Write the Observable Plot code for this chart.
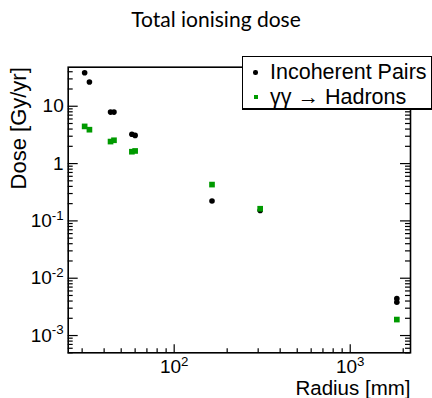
<!DOCTYPE html>
<html>
<head>
<meta charset="utf-8">
<script src="https://cdn.jsdelivr.net/npm/d3@7"></script>
<script src="https://cdn.jsdelivr.net/npm/@observablehq/plot@0.6"></script>
<style>
  html, body { margin: 0; padding: 0; background: #fff; }
  #root { position: relative; width: 432px; height: 398px; overflow: hidden; background: #fff; }
  #title { position: absolute; left: 0; top: 6px; width: 432px; text-align: center; font: 21px Lato, "DejaVu Sans", sans-serif; color: #000; }
  #legend { position: absolute; left: 242px; top: 56px; width: 188px; height: 51px; border: 1px solid #000; border-bottom-width: 2px; background: #fff; font-family: "Liberation Sans", "DejaVu Sans", sans-serif; font-size: 21.5px; color: #000; }
  .row { position: absolute; left: 0; height: 24px; line-height: 24px; white-space: nowrap; }
  .row .lbl { position: absolute; left: 27px; top: 0; }
  .mk { position: absolute; }
</style>
</head>
<body>
<div id="root">
  <div id="chart"></div>
  <div id="title">Total ionising dose</div>
  <div id="legend"></div>
</div>
<script>
// ---- data ----
const pairsRadius  = [31, 33, 43.5, 45.5, 57.5, 60, 164, 308, 1840, 1840];
const pairsDose    = [38.5, 26.5, 7.9, 7.9, 3.25, 3.1, 0.222, 0.152, 0.0044, 0.0038];
const hadronRadius = [31, 33, 43.5, 45.5, 57.5, 60, 164, 308, 1840];
const hadronDose   = [4.45, 3.9, 2.42, 2.55, 1.61, 1.66, 0.43, 0.163, 0.0019];
const seriesNames  = ["Incoherent Pairs", "\u03b3\u03b3 \u2192 Hadrons"];
const seriesColors = ["#000000", "#009a00"];
const xTickValues  = [100, 1000];
const yTickValues  = [0.001, 0.01, 0.1, 1, 10];
const xLabel = "Radius [mm]";
const yLabel = "Dose [Gy/yr]";

const xDomain = [25, 2200];
const yDomain = [5e-4, 48];

const pairs = pairsRadius.map((r, i) => ({r, d: pairsDose[i]}));
const hadrons = hadronRadius.map((r, i) => ({r, d: hadronDose[i]}));

function minors(lo, hi) {
  const out = [];
  for (let e = Math.floor(Math.log10(lo)); e <= Math.ceil(Math.log10(hi)); e++) {
    for (let k = 2; k <= 9; k++) {
      const v = k * Math.pow(10, e);
      if (v >= lo && v <= hi) out.push(v);
    }
  }
  return out;
}
const xMinor = minors(...xDomain);
const yMinor = minors(...yDomain);

const W = 432, H = 398;
const mT = 66.7, mB = 45.7, mL = 67.7, mR = 22;
const fW = W - mL - mR, fH = H - mT - mB;

function fmt(d) {
  const e = Math.round(Math.log10(d));
  if (e === 0) return "1";
  if (e === 1) return "10";
  return "10^" + e;
}

const FONT = "'Liberation Sans', 'DejaVu Sans', sans-serif";

const chart = Plot.plot({
  width: W, height: H,
  marginTop: mT, marginBottom: mB, marginLeft: mL, marginRight: mR,
  style: {fontFamily: FONT, fontSize: "19px", background: "#fff", color: "#000"},
  x: {type: "log", domain: xDomain},
  y: {type: "log", domain: yDomain},
  marks: [
    Plot.tickY(yTickValues, {y: d => d, insetRight: fW - 10, stroke: "#000", strokeWidth: 1.2}),
    Plot.tickY(yMinor, {y: d => d, insetRight: fW - 5, stroke: "#000", strokeWidth: 1.2}),
    Plot.tickY(yTickValues, {y: d => d, insetLeft: fW - 10, stroke: "#000", strokeWidth: 1.2}),
    Plot.tickY(yMinor, {y: d => d, insetLeft: fW - 5, stroke: "#000", strokeWidth: 1.2}),
    Plot.tickX(xTickValues, {x: d => d, insetTop: fH - 8, stroke: "#000", strokeWidth: 1.2}),
    Plot.tickX(xMinor, {x: d => d, insetTop: fH - 4, stroke: "#000", strokeWidth: 1.2}),
    Plot.axisY({ticks: yTickValues, tickSize: 0, tickPadding: 4.5, tickFormat: fmt, label: null, fontFamily: FONT}),
    Plot.axisX({ticks: xTickValues, tickSize: 0, tickPadding: 7, tickFormat: fmt, label: null, fontFamily: FONT}),
    Plot.frame({stroke: "#000", strokeWidth: 1.6}),
    Plot.dot(pairs, {x: "r", y: "d", r: 2.8, fill: seriesColors[0], stroke: null}),
    Plot.dot(hadrons, {x: "r", y: "d", r: 3.2, symbol: "square", fill: seriesColors[1], stroke: null}),
    Plot.text([yLabel], {frameAnchor: "top-left", dx: -49.5, rotate: -90, textAnchor: "end", lineAnchor: "middle", fontSize: 22, fontFamily: FONT}),
    Plot.text([xLabel], {frameAnchor: "bottom-right", dy: 35.5, textAnchor: "end", lineAnchor: "middle", fontSize: 20.5, fontFamily: FONT})
  ]
});

chart.querySelectorAll("text").forEach(t => {
  const s = t.textContent;
  if (s.startsWith("10^") && t.children.length === 0) {
    t.textContent = "";
    const ns = "http://www.w3.org/2000/svg";
    const b = document.createElementNS(ns, "tspan");
    b.textContent = "10";
    const sup = document.createElementNS(ns, "tspan");
    sup.textContent = s.slice(3);
    sup.setAttribute("dy", "-0.55em");
    sup.setAttribute("font-size", "70%");
    t.appendChild(b);
    t.appendChild(sup);
  }
});
document.getElementById("chart").appendChild(chart);

const legend = document.getElementById("legend");
seriesNames.forEach((name, i) => {
  const row = document.createElement("div");
  row.className = "row";
  row.style.top = (i === 0 ? 3 : 28) + "px";
  row.style.width = "188px";
  const mk = document.createElement("span");
  mk.className = "mk";
  if (i === 0) {
    mk.style.cssText = `left:10px;top:10px;width:4.5px;height:4.5px;border-radius:50%;background:${seriesColors[i]};`;
  } else {
    mk.style.cssText = `left:11px;top:10px;width:4px;height:4px;background:${seriesColors[i]};`;
  }
  const lbl = document.createElement("span");
  lbl.className = "lbl";
  lbl.textContent = name;
  row.appendChild(mk);
  row.appendChild(lbl);
  legend.appendChild(row);
});
</script>
</body>
</html>
